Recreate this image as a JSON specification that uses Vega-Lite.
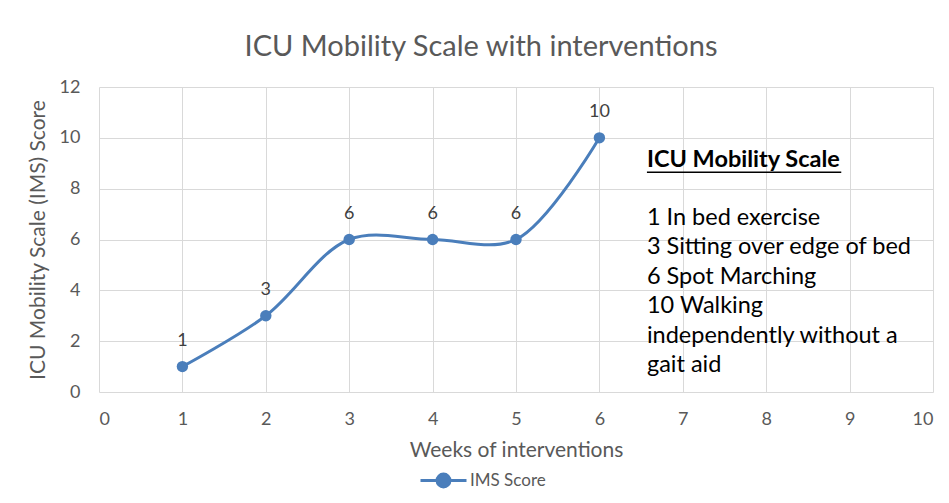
{
  "$schema": "https://vega.github.io/schema/vega-lite/v6.json",
  "width": 834,
  "height": 305,
  "padding": {"left": 27, "top": 33, "right": 8, "bottom": 10},
  "background": "white",
  "config": {"font": "Lato", "view": {"stroke": null}},
  "title": {"text": "ICU Mobility Scale with interventions", "fontSize": 29, "font": "Lato", "fontWeight": "normal", "color": "#595959", "offset": 16, "anchor": "middle", "dx": -35},
  "data": {"values": [
    {"week": 1, "score": 1, "series": "IMS Score"},
    {"week": 2, "score": 3, "series": "IMS Score"},
    {"week": 3, "score": 6, "series": "IMS Score"},
    {"week": 4, "score": 6, "series": "IMS Score"},
    {"week": 5, "score": 6, "series": "IMS Score"},
    {"week": 6, "score": 10, "series": "IMS Score"}
  ]},
  "layer": [
    {
      "mark": {"type": "line", "interpolate": "catmull-rom", "strokeWidth": 3, "point": {"filled": true, "size": 130}},
      "encoding": {
        "x": {"field": "week", "type": "quantitative", "scale": {"domain": [0, 10], "nice": false},
          "title": "Weeks of interventions",
          "axis": {"values": [0,1,2,3,4,5,6,7,8,9,10], "format": "d", "grid": true, "gridColor": "#d9d9d9", "gridWidth": 1, "domain": false, "ticks": false,
            "labelFontSize": 18, "labelColor": "#595959", "labelPadding": 18, "labelFont": "Lato",
            "titleFontSize": 21, "titleColor": "#595959", "titleFontWeight": "normal", "titlePadding": 11, "titleFont": "Lato"}},
        "y": {"field": "score", "type": "quantitative", "scale": {"domain": [0, 12], "nice": false},
          "title": "ICU  Mobility Scale (IMS)  Score",
          "axis": {"values": [0,2,4,6,8,10,12], "format": "d", "grid": true, "gridColor": "#d9d9d9", "gridWidth": 1, "domain": false, "ticks": false,
            "labelFontSize": 18, "labelColor": "#595959", "labelPadding": 19, "labelFont": "Lato",
            "titleFontSize": 21, "titleColor": "#595959", "titleFontWeight": "normal", "titlePadding": 11, "titleFont": "Lato"}},
        "color": {"field": "series", "type": "nominal", "scale": {"range": ["#4a7ebb"]},
          "legend": {"title": null, "orient": "none", "legendX": 320, "legendY": 369,
            "symbolType": "M-1,0H1M-0.28,0A0.28,0.28,0,1,1,0.28,0A0.28,0.28,0,1,1,-0.28,0Z",
            "symbolSize": 2116, "symbolStrokeWidth": 3, "symbolFillColor": "#4a7ebb", "symbolStrokeColor": "#4a7ebb",
            "labelFontSize": 17, "labelColor": "#595959", "labelFont": "Lato", "labelOffset": 2}}
      }
    },
    {
      "mark": {"type": "text", "baseline": "middle", "dy": -26, "fontSize": 18, "font": "Lato", "color": "#404040"},
      "encoding": {
        "x": {"field": "week", "type": "quantitative"},
        "y": {"field": "score", "type": "quantitative"},
        "text": {"field": "score"}
      }
    },
    {
      "data": {"values": [{"label": "ICU Mobility Scale"}]},
      "mark": {"type": "text", "align": "left", "baseline": "middle", "fontSize": 23.5, "font": "Lato", "fontWeight": "bold", "color": "#000000"},
      "encoding": {
        "x": {"datum": 6.57},
        "y": {"datum": 9.13},
        "text": {"field": "label"}
      }
    },
    {
      "data": {"values": [{}]},
      "mark": {"type": "rule", "strokeWidth": 1.5, "color": "#000000"},
      "encoding": {
        "x": {"datum": 6.57},
        "x2": {"datum": 8.9},
        "y": {"datum": 8.65}
      }
    },
    {
      "data": {"values": [{"body": ["1 In bed exercise", "3 Sitting over edge of bed", "6 Spot Marching", "10 Walking", "independently without a", "gait aid"]}]},
      "mark": {"type": "text", "align": "left", "baseline": "middle", "fontSize": 23.5, "font": "Lato", "color": "#000000", "lineHeight": 29.5},
      "encoding": {
        "x": {"datum": 6.57},
        "y": {"datum": 6.85},
        "text": {"field": "body"}
      }
    }
  ]
}
